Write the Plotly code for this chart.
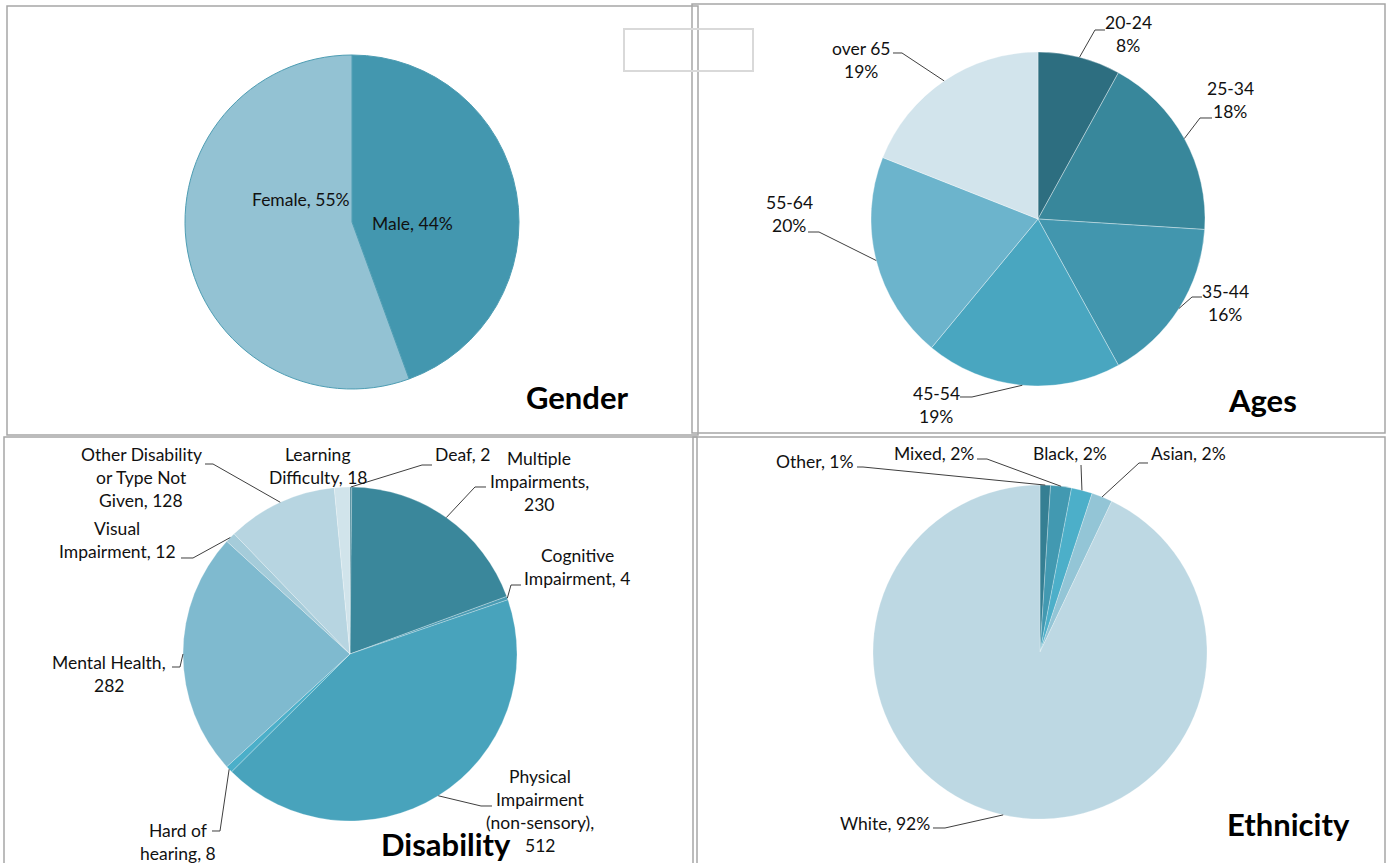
import math
import plotly.graph_objects as go

W, H = 1391, 863

# ---------------- data ----------------
gender_labels = ["Male", "Female"]
gender_values = [44, 55]

age_labels = ["20-24", "25-34", "35-44", "45-54", "55-64", "over 65"]
age_values = [8, 18, 16, 19, 20, 19]

dis_labels = ["Deaf", "Multiple Impairments", "Cognitive Impairment",
              "Physical Impairment (non-sensory)", "Hard of hearing",
              "Mental Health", "Visual Impairment",
              "Other Disability or Type Not Given", "Learning Difficulty"]
dis_values = [2, 230, 4, 512, 8, 282, 12, 128, 18]

eth_labels = ["Other", "Mixed", "Black", "Asian", "White"]
eth_values = [1, 2, 2, 2, 92]

# ---------------- styles ----------------
gender_colors = ["#4397AF", "#93C2D3"]
age_colors = ["#2D6E80", "#38879B", "#4296AE", "#49A6C0", "#6CB4CC", "#D2E4EC"]
dis_colors = ["#32798C", "#3A879B", "#4A9BB3", "#48A3BC", "#4BAFC9",
              "#7FBACF", "#A5CCDA", "#B7D5E1", "#D1E4EB"]
eth_colors = ["#357F93", "#4299B1", "#4CAFC9", "#93C5D6", "#BDD8E3"]

FONT = "Lato"
LBL = 17.5
LH = 23
R = 167

# pie centres in pixels
pies = {
    "gender": (352, 222),
    "ages": (1038, 219),
    "dis": (350, 654),
    "eth": (1040, 652),
}


def fx(x):
    return x / W


def fy(y):
    return 1 - y / H


def domain(c):
    cx, cy = c
    return dict(x=[fx(cx - R), fx(cx + R)], y=[fy(cy + R), fy(cy - R)])


def tips(values, c):
    tot = sum(values)
    cum = 0
    out = []
    for v in values:
        mid = (cum + v / 2) / tot * 2 * math.pi
        out.append((c[0] + R * math.sin(mid), c[1] - R * math.cos(mid)))
        cum += v
    return out


def wrap(text, counts):
    words = text.split(" ")
    lines, i = [], 0
    for n in counts:
        lines.append(" ".join(words[i:i + n]))
        i += n
    return lines


fig = go.Figure()


def add_pie(labels, values, colors, c, line_color, line_w):
    fig.add_trace(go.Pie(
        labels=labels, values=values, sort=False, direction="clockwise",
        rotation=0, textinfo="none", hoverinfo="label+value",
        marker=dict(colors=colors, line=dict(color=line_color, width=line_w)),
        domain=domain(c), showlegend=False,
    ))


add_pie(gender_labels, gender_values, gender_colors, pies["gender"], "#4E9DB3", 1)
add_pie(age_labels, age_values, age_colors, pies["ages"], "rgba(255,255,255,0.6)", 0.6)
add_pie(dis_labels, dis_values, dis_colors, pies["dis"], "rgba(255,255,255,0.5)", 0.5)
add_pie(eth_labels, eth_values, eth_colors, pies["eth"], "rgba(255,255,255,0.5)", 0.5)

annotations = []
shapes = []


def put_label(lines, x, y):
    for i, t in enumerate(lines):
        annotations.append(dict(
            x=fx(x), y=fy(y + i * LH), xref="paper", yref="paper",
            text=t, showarrow=False, xanchor="center", yanchor="middle",
            font=dict(family=FONT, size=LBL, color="#111111")))


def leader(points, tip):
    pts = list(points) + [tip]
    d = "M " + " L ".join(f"{fx(px):.5f},{fy(py):.5f}" for px, py in pts)
    shapes.append(dict(type="path", path=d, xref="paper", yref="paper",
                       line=dict(color="#3F3F3F", width=1)))


# ---- Gender labels (inside)
g_pos = [(412, 224), (301, 200)]
for lab, v, (x, y) in zip(gender_labels, gender_values, g_pos):
    put_label([f"{lab}, {v}%"], x, y)

# ---- Ages labels
a_pos = [(1128, 22), (1230, 88), (1225, 291), (936, 393), (789, 202), (861, 48)]
a_lead = [[(1105, 30), (1095, 30)], [(1212, 118), (1200, 118)],
          [(1202, 297), (1192, 297)], [(960, 397), (972, 397)],
          [(808, 232), (819, 232)], [(893, 53), (902, 53)]]
a_tips = tips(age_values, pies["ages"])
for lab, v, (x, y), ld, tp in zip(age_labels, age_values, a_pos, a_lead, a_tips):
    put_label([lab, f"{v}%"], x, y)
    leader(ld, tp)

# ---- Disability labels
d_wrap = [[2], [1, 1, 1], [1, 2], [1, 1, 1, 1], [2, 2], [2, 1], [1, 2], [2, 3, 2], [1, 2]]
d_pos = [(462, 454), (539, 458), (577, 555), (540, 776), (178, 830),
         (109, 662), (117, 528), (141, 454), (318, 454)]
d_lead = [[(432, 465), (422, 465)], [(486, 487), (475, 487)],
          [(521, 585), (511, 585)], [(492, 806), (481, 806)],
          [(212, 831), (220, 831)], [(172, 667), (180, 667)],
          [(181, 558), (193, 558)], [(205, 464), (213, 464)], None]
d_tips = tips(dis_values, pies["dis"])
for lab, v, wc, (x, y), ld, tp in zip(dis_labels, dis_values, d_wrap, d_pos, d_lead, d_tips):
    put_label(wrap(f"{lab}, {v}", wc), x, y)
    if ld:
        leader(ld, tp)

# ---- Ethnicity labels
e_pos = [(815, 461), (934, 453), (1070, 453), (1188, 453), (885, 823)]
e_lead = [[(857, 467), (863, 467)], [(977, 459), (987, 459)], [(1081, 465)],
          [(1148, 463), (1139, 463)], [(933, 828), (945, 828)]]
e_tips = tips(eth_values, pies["eth"])
for lab, v, (x, y), ld, tp in zip(eth_labels, eth_values, e_pos, e_lead, e_tips):
    put_label([f"{lab}, {v}%"], x, y)
    leader(ld, tp)

# ---- Titles
titles = [("Gender", 577, 397), ("Ages", 1262, 400),
          ("Disability", 446, 844), ("Ethnicity", 1288, 824)]
for t, x, y in titles:
    annotations.append(dict(
        x=fx(x), y=fy(y), xref="paper", yref="paper", text=f"<b>{t}</b>",
        showarrow=False, xanchor="center", yanchor="middle",
        font=dict(family=FONT, size=31, color="#000000")))

# ---- Panel frames
frames = [(7, 6, 698, 435), (692, 4, 1385, 433), (4, 437, 697, 880), (693, 437, 1385, 880)]
for x0, y0, x1, y1 in frames:
    shapes.append(dict(type="rect", xref="paper", yref="paper",
                       x0=fx(x0), x1=fx(x1), y0=fy(y1), y1=fy(y0),
                       line=dict(color="#A6A6A6", width=1.5), layer="below"))
# small empty box
shapes.append(dict(type="rect", xref="paper", yref="paper",
                   x0=fx(624), x1=fx(753), y0=fy(71), y1=fy(29),
                   line=dict(color="#D9D9D9", width=2)))

fig.update_layout(
    width=W, height=H, margin=dict(l=0, r=0, t=0, b=0),
    paper_bgcolor="white", plot_bgcolor="white",
    annotations=annotations, shapes=shapes, showlegend=False,
)

fig.write_html("out.html")
